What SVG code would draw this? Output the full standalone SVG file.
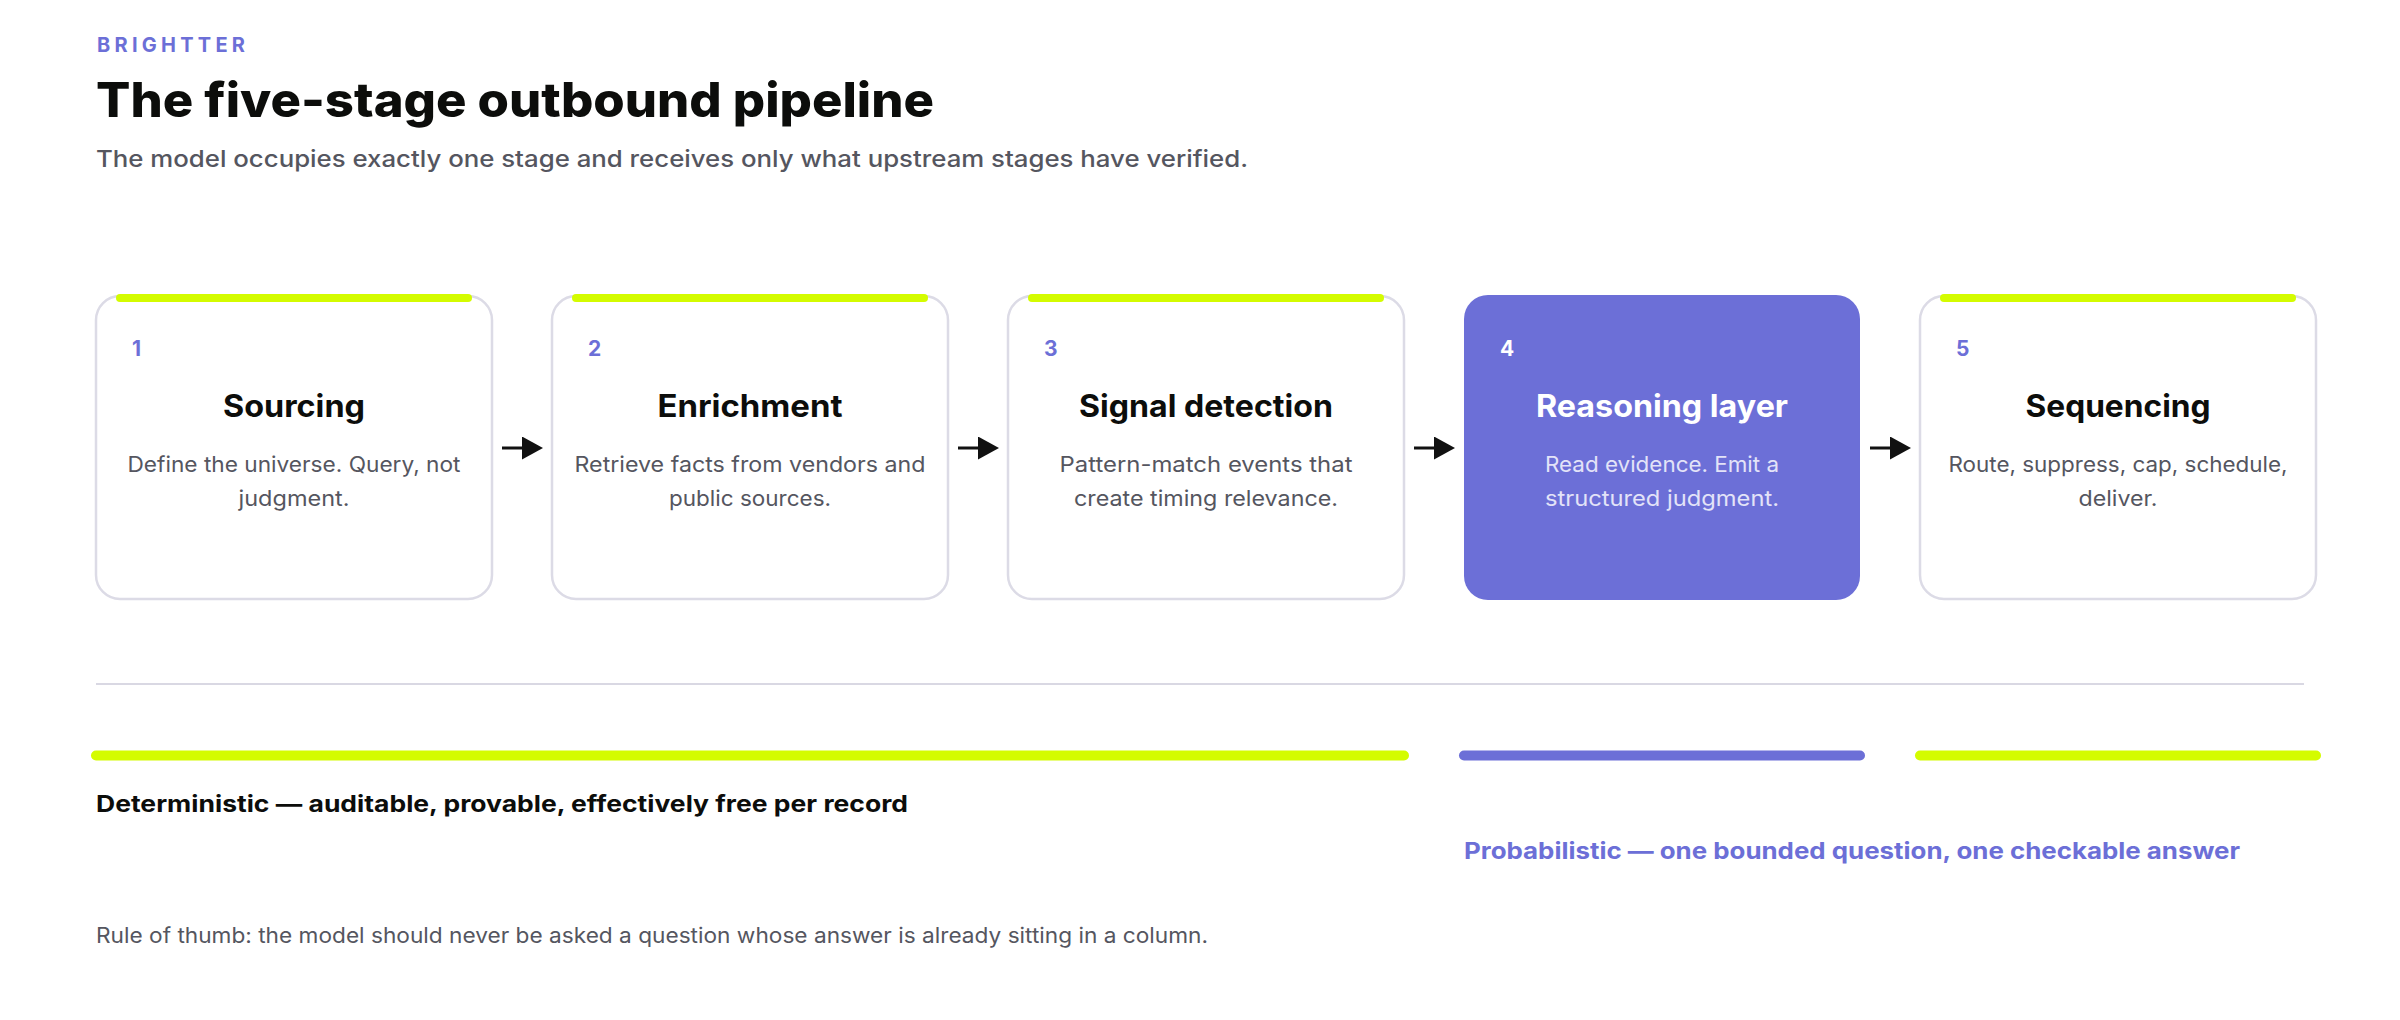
<svg xmlns="http://www.w3.org/2000/svg" width="2400" height="1020" viewBox="0 0 2400 1020">
  <defs>
    <style>
      text { font-family: Inter, "Liberation Sans", "DejaVu Sans", sans-serif; }
      .eyebrow { font-size: 20px; font-weight: 700; fill: #6c6fd7; }
      .title { font-size: 48px; font-weight: 800; fill: #0c0d0b; }
      .subtitle { font-size: 23.5px; font-weight: 500; fill: #55565f; }
      .card { fill: #ffffff; stroke: #dcdbe6; stroke-width: 2.5; }
      .card-hot { fill: #6c6fd7; }
      .accent { fill: #d4fc00; }
      .num { font-size: 21px; font-weight: 700; fill: #6c6fd7; }
      .num-hot { font-size: 21px; font-weight: 700; fill: #ffffff; }
      .name { font-size: 31px; font-weight: 700; fill: #0c0d0b; text-anchor: middle; }
      .name-hot { font-size: 31px; font-weight: 700; fill: #ffffff; text-anchor: middle; }
      .desc { font-size: 21.5px; font-weight: 400; fill: #55565f; text-anchor: middle; }
      .desc-hot { font-size: 21.5px; font-weight: 400; fill: #e3e3f8; text-anchor: middle; }
      .arrow { stroke: #111111; stroke-width: 3; fill: none; }
      .band-lime { stroke: #d4fc00; stroke-width: 10; stroke-linecap: round; }
      .band-purple { stroke: #6c6fd7; stroke-width: 10; stroke-linecap: round; }
      .rule { stroke: #d9d8e3; stroke-width: 2; }
      .det { font-size: 23px; font-weight: 700; fill: #0c0d0b; }
      .prob { font-size: 23px; font-weight: 700; fill: #6c6fd7; }
      .note { font-size: 21px; font-weight: 400; fill: #55565f; }
    </style>
    <marker id="head" markerUnits="userSpaceOnUse" markerWidth="22" markerHeight="24" refX="0" refY="11.5" orient="auto">
      <path d="M0,0 L21,11.5 L0,23 Z" fill="#111111"/>
    </marker>
  </defs>

  <rect width="2400" height="1020" fill="#ffffff"/>

  <g id="header">
    <text class="eyebrow" x="97" y="51.5" textLength="148" lengthAdjust="spacing">BRIGHTTER</text>
    <text class="title" x="96" y="116.5" textLength="838" lengthAdjust="spacingAndGlyphs">The five-stage outbound pipeline</text>
    <text class="subtitle" x="96" y="166.5" textLength="1152" lengthAdjust="spacingAndGlyphs">The model occupies exactly one stage and receives only what upstream stages have verified.</text>
  </g>

  <g id="stage-1">
    <rect class="card" x="96" y="296" width="396" height="303" rx="24"/>
    <rect class="accent" x="116" y="294" width="356" height="8" rx="4"/>
    <text class="num" x="132" y="356">1</text>
    <text class="name" x="294" y="417" textLength="142" lengthAdjust="spacingAndGlyphs">Sourcing</text>
    <text class="desc" x="294" y="472" textLength="333" lengthAdjust="spacingAndGlyphs">Define the universe. Query, not</text>
    <text class="desc" x="294" y="506" textLength="111" lengthAdjust="spacingAndGlyphs">judgment.</text>
  </g>

  <g id="stage-2">
    <rect class="card" x="552" y="296" width="396" height="303" rx="24"/>
    <rect class="accent" x="572" y="294" width="356" height="8" rx="4"/>
    <text class="num" x="588" y="356">2</text>
    <text class="name" x="750" y="417" textLength="185" lengthAdjust="spacingAndGlyphs">Enrichment</text>
    <text class="desc" x="750" y="472" textLength="351" lengthAdjust="spacingAndGlyphs">Retrieve facts from vendors and</text>
    <text class="desc" x="750" y="506" textLength="162" lengthAdjust="spacingAndGlyphs">public sources.</text>
  </g>

  <g id="stage-3">
    <rect class="card" x="1008" y="296" width="396" height="303" rx="24"/>
    <rect class="accent" x="1028" y="294" width="356" height="8" rx="4"/>
    <text class="num" x="1044" y="356">3</text>
    <text class="name" x="1206" y="417" textLength="254" lengthAdjust="spacingAndGlyphs">Signal detection</text>
    <text class="desc" x="1206" y="472" textLength="293" lengthAdjust="spacingAndGlyphs">Pattern-match events that</text>
    <text class="desc" x="1206" y="506" textLength="264" lengthAdjust="spacingAndGlyphs">create timing relevance.</text>
  </g>

  <g id="stage-4">
    <rect class="card-hot" x="1464" y="295" width="396" height="305" rx="24"/>
    <text class="num-hot" x="1500" y="356">4</text>
    <text class="name-hot" x="1662" y="417" textLength="252" lengthAdjust="spacingAndGlyphs">Reasoning layer</text>
    <text class="desc-hot" x="1662" y="472" textLength="234" lengthAdjust="spacingAndGlyphs">Read evidence. Emit a</text>
    <text class="desc-hot" x="1662" y="506" textLength="234" lengthAdjust="spacingAndGlyphs">structured judgment.</text>
  </g>

  <g id="stage-5">
    <rect class="card" x="1920" y="296" width="396" height="303" rx="24"/>
    <rect class="accent" x="1940" y="294" width="356" height="8" rx="4"/>
    <text class="num" x="1956" y="356">5</text>
    <text class="name" x="2118" y="417" textLength="185" lengthAdjust="spacingAndGlyphs">Sequencing</text>
    <text class="desc" x="2118" y="472" textLength="339" lengthAdjust="spacingAndGlyphs">Route, suppress, cap, schedule,</text>
    <text class="desc" x="2118" y="506" textLength="79" lengthAdjust="spacingAndGlyphs">deliver.</text>
  </g>

  <g id="connectors">
    <line class="arrow" x1="502" y1="448" x2="522" y2="448" marker-end="url(#head)"/>
    <line class="arrow" x1="958" y1="448" x2="978" y2="448" marker-end="url(#head)"/>
    <line class="arrow" x1="1414" y1="448" x2="1434" y2="448" marker-end="url(#head)"/>
    <line class="arrow" x1="1870" y1="448" x2="1890" y2="448" marker-end="url(#head)"/>
  </g>

  <g id="legend">
    <line class="rule" x1="96" y1="684" x2="2304" y2="684"/>
    <line class="band-lime" x1="96" y1="755.5" x2="1404" y2="755.5"/>
    <line class="band-purple" x1="1464" y1="755.5" x2="1860" y2="755.5"/>
    <line class="band-lime" x1="1920" y1="755.5" x2="2316" y2="755.5"/>
    <text class="det" x="96" y="811.5" textLength="812" lengthAdjust="spacingAndGlyphs">Deterministic — auditable, provable, effectively free per record</text>
    <text class="prob" x="1464" y="859" textLength="776" lengthAdjust="spacingAndGlyphs">Probabilistic — one bounded question, one checkable answer</text>
    <text class="note" x="96" y="943" textLength="1112" lengthAdjust="spacingAndGlyphs">Rule of thumb: the model should never be asked a question whose answer is already sitting in a column.</text>
  </g>
</svg>
